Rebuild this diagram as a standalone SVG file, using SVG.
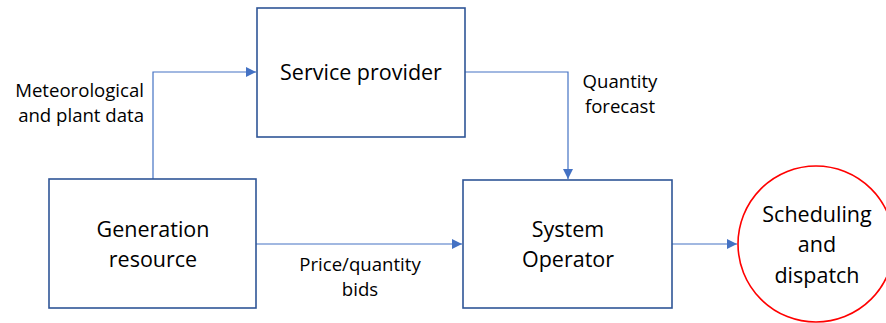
<svg xmlns="http://www.w3.org/2000/svg" width="886" height="323" viewBox="0 0 886 323">
<style>
.box{fill:#fff;stroke:#2F5597;stroke-width:1.6}
.circ{fill:#fff;stroke:#FF0000;stroke-width:1.6}
.conn{fill:none;stroke:#4472C4;stroke-width:1.2}
.nt{font-family:"Open Sans","Liberation Sans",sans-serif;font-size:21.5px;fill:#000;text-anchor:middle}
.lt{font-family:"Open Sans","Liberation Sans",sans-serif;font-size:18.6px;fill:#000}
</style>
<defs>
<marker id="ah" viewBox="0 0 10 10" refX="10" refY="5" markerWidth="10" markerHeight="10" markerUnits="userSpaceOnUse" orient="auto">
<path d="M0,0 L10,5 L0,10 z" fill="#4472C4"/>
</marker>
</defs>
<rect width="886" height="323" fill="#fff"/>
<g id="connectors">
<path class="conn" d="M153,179 V72 H256" marker-end="url(#ah)"/>
<path class="conn" d="M465,72 H568 V179" marker-end="url(#ah)"/>
<path class="conn" d="M256,244 H462" marker-end="url(#ah)"/>
<path class="conn" d="M672,244 H737" marker-end="url(#ah)"/>
<text class="lt" x="144" y="97" text-anchor="end">Meteorological</text>
<text class="lt" x="144" y="122" text-anchor="end">and plant data</text>
<text class="lt" x="620" y="88" text-anchor="middle">Quantity</text>
<text class="lt" x="620" y="113" text-anchor="middle">forecast</text>
<text class="lt" x="360" y="271" text-anchor="middle">Price/quantity</text>
<text class="lt" x="360" y="296" text-anchor="middle">bids</text>
</g>
<g id="service-provider">
<rect class="box" x="257" y="8" width="208" height="129"/>
<text class="nt" x="361" y="80">Service provider</text>
</g>
<g id="generation-resource">
<rect class="box" x="49" y="179" width="207" height="129"/>
<text class="nt" x="153" y="237">Generation</text>
<text class="nt" x="153" y="267">resource</text>
</g>
<g id="system-operator">
<rect class="box" x="463" y="180" width="209" height="128"/>
<text class="nt" x="568" y="237">System</text>
<text class="nt" x="568" y="267">Operator</text>
</g>
<g id="scheduling-dispatch">
<circle class="circ" cx="816" cy="244" r="78"/>
<text class="nt" x="817" y="222">Scheduling</text>
<text class="nt" x="817" y="252">and</text>
<text class="nt" x="817" y="283">dispatch</text>
</g>
</svg>
